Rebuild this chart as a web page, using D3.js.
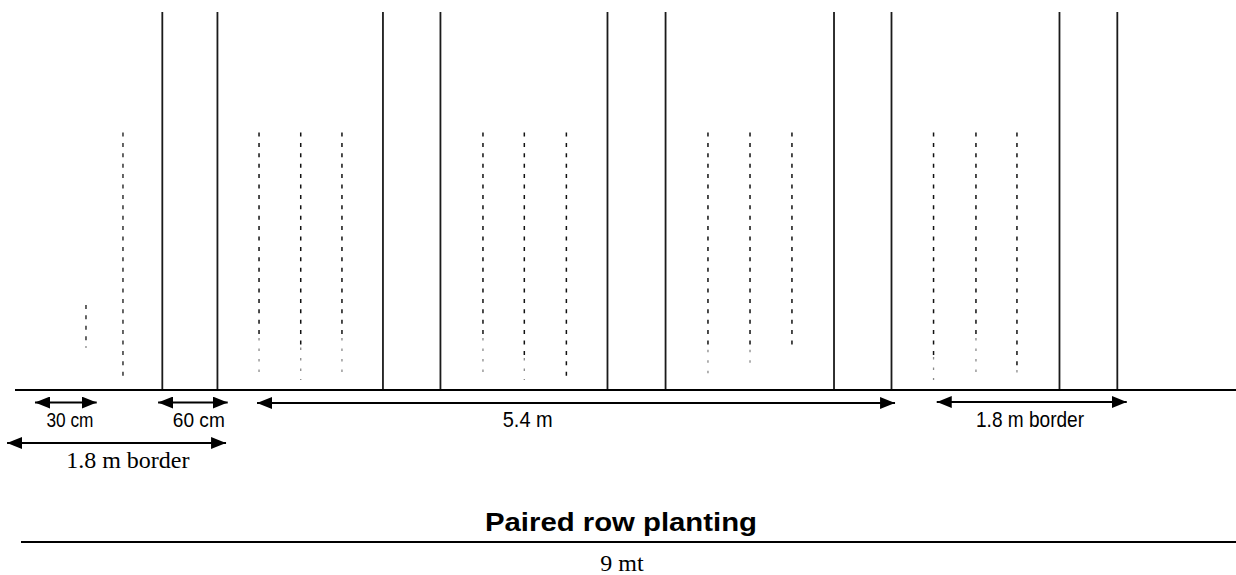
<!DOCTYPE html>
<html>
<head>
<meta charset="utf-8">
<script src="https://cdn.jsdelivr.net/npm/d3@7"></script>
<style>
  html, body { margin: 0; padding: 0; background: #fff; }
  svg { display: block; }
  .narrow { font-family: "Liberation Sans Narrow", "Arial Narrow", "Liberation Sans", sans-serif; }
  .serif { font-family: "Liberation Serif", "Times New Roman", serif; }
  .bold { font-family: "Liberation Sans", Arial, sans-serif; font-weight: bold; }
</style>
</head>
<body>
<svg id="chart"></svg>
<script>
// Paired rows (solid lines), metres from the left edge of the field
const pairedRows = [1.293, 1.761, 3.166, 3.654, 5.072, 5.565, 6.995, 7.483, 8.909, 9.40];

// Single rows (dotted lines) between the pairs
const singleRows = [0.645, 0.959, 2.114, 2.468, 2.818, 4.015, 4.366, 4.723, 5.925, 6.282, 6.638, 7.84, 8.2, 8.548];
// top of each dotted row, m above the ground line
const singleRowTops = [0.72, 2.18, 2.18, 2.18, 2.18, 2.18, 2.18, 2.18, 2.18, 2.18, 2.18, 2.18, 2.18, 2.18];
// where the dark dots stop
const singleRowEnds = [0.36, 0.085, 0.44, 0.36, 0.44, 0.44, 0.27, 0.085, 0.34, 0.34, 0.34, 0.28, 0.44, 0.17];
// where the faint tail stops
const singleRowTails = [0.36, 0.085, 0.10, 0.085, 0.085, 0.085, 0.085, 0.085, 0.085, 0.17, 0.34, 0.085, 0.085, 0.085];

// Row length (height of the solid rows), m
const rowLength = 3.2;

// Dimension arrows
const dimLabels = ['30 cm', '60 cm', '5.4 m', '1.8 m border', '1.8 m border'];
const dimFrom = [0.212, 1.257, 2.097, -0.025, 7.867];
const dimTo = [0.736, 1.848, 7.513, 1.834, 9.48];
const dimLabelAt = [0.509, 1.603, 4.395, 1.0, 8.659];

const titleText = 'Paired row planting';
const widthText = '9 mt';

// layout stuff
const width = 1236;
const height = 575;
const groundY = 390;
const topY = 12;
const pxPerM = 117.8;
const originX = 10;

// annotation styling, same order as the dims
// (no narrow font installed, so squeeze the sans ones with textLength)
const dimStyle = [
  { arrowY: 402.5, textY: 427, cls: 'narrow', size: 21, len: 47 },
  { arrowY: 402.5, textY: 427, cls: 'narrow', size: 21, len: 52 },
  { arrowY: 403, textY: 427, cls: 'narrow', size: 22, len: 50 },
  { arrowY: 443, textY: 468, cls: 'serif', size: 24, len: null },
  { arrowY: 402, textY: 427, cls: 'narrow', size: 22, len: 108 }
];

const chart = d3.select('#chart')
  .attr('width', width)
  .attr('height', height);

// Scales - metres to pixels
const xScale = d3.scaleLinear()
  .domain([0, 10])
  .range([originX, originX + pxPerM * 10]);

const yScale = d3.scaleLinear()
  .domain([0, rowLength])
  .range([groundY, topY]);

// arrow head
chart.append('defs').append('marker')
  .attr('id', 'head')
  .attr('viewBox', '0 0 15 12')
  .attr('markerUnits', 'userSpaceOnUse')
  .attr('markerWidth', 15)
  .attr('markerHeight', 12)
  .attr('refX', 15)
  .attr('refY', 6)
  .attr('orient', 'auto-start-reverse')
  .append('path')
  .attr('d', 'M0,0 L15,6 L0,12 Z')
  .attr('fill', '#000');

// Dotted single rows - faint tail first, then the dark dots over it
const singles = singleRows.map((x, i) => ({
  x: x, top: singleRowTops[i], end: singleRowEnds[i], tail: singleRowTails[i]
}));

chart.selectAll('line.tail')
  .data(singles.filter(d => d.tail < d.end))
  .enter()
  .append('line')
  .attr('class', 'tail')
  .attr('x1', d => xScale(d.x))
  .attr('x2', d => xScale(d.x))
  .attr('y1', d => yScale(d.end))
  .attr('y2', d => yScale(d.tail))
  .attr('stroke', '#8a8a8a')
  .attr('stroke-width', 1.3)
  .attr('stroke-dasharray', '2.5,8');

chart.selectAll('line.single')
  .data(singles)
  .enter()
  .append('line')
  .attr('class', 'single')
  .attr('x1', d => xScale(d.x))
  .attr('x2', d => xScale(d.x))
  .attr('y1', d => yScale(d.top))
  .attr('y2', d => yScale(d.end))
  .attr('stroke', (d, i) => i < 2 ? '#333' : '#111')
  .attr('stroke-width', 1.5)
  .attr('stroke-dasharray', '4,6.4');

// Solid paired rows
chart.selectAll('line.paired')
  .data(pairedRows)
  .enter()
  .append('line')
  .attr('class', 'paired')
  .attr('x1', d => xScale(d))
  .attr('x2', d => xScale(d))
  .attr('y1', yScale(rowLength))
  .attr('y2', yScale(0))
  .attr('stroke', '#1a1a1a')
  .attr('stroke-width', 1.8);

// Ground line
chart.append('line')
  .attr('x1', 15)
  .attr('x2', width)
  .attr('y1', groundY)
  .attr('y2', groundY)
  .attr('stroke', '#000')
  .attr('stroke-width', 2);

// Dimension arrows + labels
const dims = dimLabels.map((label, i) => ({
  label: label, from: dimFrom[i], to: dimTo[i], at: dimLabelAt[i], style: dimStyle[i]
}));

chart.selectAll('line.dim')
  .data(dims)
  .enter()
  .append('line')
  .attr('class', 'dim')
  .attr('x1', d => xScale(d.from))
  .attr('x2', d => xScale(d.to))
  .attr('y1', d => d.style.arrowY)
  .attr('y2', d => d.style.arrowY)
  .attr('stroke', '#000')
  .attr('stroke-width', 2.2)
  .attr('marker-start', 'url(#head)')
  .attr('marker-end', 'url(#head)');

const labels = chart.selectAll('text.dim-label')
  .data(dims)
  .enter()
  .append('text')
  .attr('class', d => 'dim-label ' + d.style.cls)
  .attr('x', d => xScale(d.at))
  .attr('y', d => d.style.textY)
  .attr('text-anchor', 'middle')
  .attr('font-size', d => d.style.size)
  .attr('fill', '#000')
  .text(d => d.label);

labels.filter(d => d.style.len)
  .attr('textLength', d => d.style.len)
  .attr('lengthAdjust', 'spacingAndGlyphs');

// Title, the 9 m line and its label
chart.append('text')
  .attr('class', 'bold')
  .attr('x', 621)
  .attr('y', 531)
  .attr('text-anchor', 'middle')
  .attr('font-size', 25)
  .attr('textLength', 272)
  .attr('lengthAdjust', 'spacingAndGlyphs')
  .text(titleText);

chart.append('line')
  .attr('x1', 21)
  .attr('x2', width)
  .attr('y1', 542)
  .attr('y2', 542)
  .attr('stroke', '#000')
  .attr('stroke-width', 2);

chart.append('text')
  .attr('class', 'serif')
  .attr('x', 622)
  .attr('y', 571)
  .attr('text-anchor', 'middle')
  .attr('font-size', 24)
  .text(widthText);
</script>
</body>
</html>
